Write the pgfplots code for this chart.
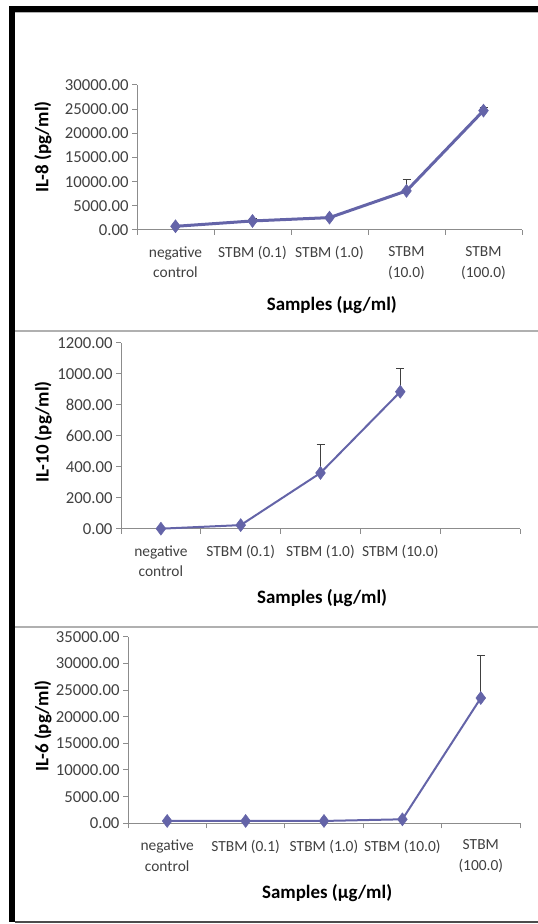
\documentclass[border=0pt]{standalone}
\usepackage{pgfplots}
\pgfplotsset{compat=1.18}
\usepackage{fontspec}
\setmainfont{Carlito}
\definecolor{ser}{RGB}{100,100,168}
\definecolor{axgray}{RGB}{140,140,140}
\definecolor{tickc}{RGB}{64,64,64}
\definecolor{sep}{RGB}{176,176,176}
\pgfplotsset{
  panel/.style={
    scale only axis,
    anchor=south west,
    axis x line=bottom, axis y line=left,
    axis line style={axgray, line width=1bp, -},
    xmin=-0.5, xmax=4.5, ymin=0,
    tick align=outside,
    major tick length=5bp,
    tick style={axgray, line width=1bp},
    xtick={-0.5,0.5,...,4.5},
    xticklabel={\relax},
    extra x ticks={0,1,2,3,4},
    extra x tick style={major tick length=0pt, tick style={draw=none}},
    xticklabel style={align=center, font=\fontsize{15.5}{20.7}\selectfont, text=tickc, yshift=-13bp},
    yticklabel style={font=\fontsize{16.8}{18}\selectfont, text=tickc},
    scaled y ticks=false,
    /pgf/number format/assume math mode=true,
    /pgf/number format/fixed, /pgf/number format/fixed zerofill,
    /pgf/number format/precision=2, /pgf/number format/1000 sep={},
    ylabel style={font=\bfseries\fontsize{19}{22}\selectfont, anchor=center},
    xlabel style={font=\bfseries\fontsize{19}{22}\selectfont, anchor=center},
    clip=false,
  },
  ser/.style={color=ser, mark=diamond*, mark size=6.5bp, mark options={fill=ser, draw=ser, solid, line width=0.5bp},
    error bars/y dir=plus, error bars/y explicit,
    error bars/error bar style={tickc, line width=1bp},
    error bars/error mark options={tickc, rotate=90, mark size=4bp, line width=1bp}},
}
\begin{document}
\begin{tikzpicture}[x=1bp,y=1bp]
% frame
\fill[black] (8.5,2) rectangle (15,918);
\fill[black] (8.5,912) rectangle (538,918);
\draw[sep, line width=1bp] (15,911.5) -- (538,911.5);
\draw[black!70, line width=2bp] (15,2.3) -- (538,2.3);
\draw[sep, line width=2bp] (15,593.3) -- (538,593.3);
\draw[sep, line width=2bp] (15,297.2) -- (538,297.2);

% Panel 1: IL-8
\begin{axis}[panel, at={(137bp,694bp)}, width=385bp, height=145bp,
  ymax=30000, ytick={0,5000,...,30000},
  extra x tick labels={negative\\control, STBM (0.1), STBM (1.0), STBM\\(10.0), STBM\\(100.0)},
  ylabel={IL-8 (pg/ml)}, ylabel style={at={(axis description cs:-0.244,0.574)}},
  xlabel={Samples (µg/ml)}, xlabel style={at={(axis description cs:0.506,-0.517)}}]
\addplot+[line width=3bp, ser] table[x=x, y=y, y error=e] {
x y e
0 760 0
1 1870 500
2 2560 300
3 8090 2300
4 24700 700
};
\end{axis}

% Panel 2: IL-10
\begin{axis}[panel, at={(121bp,395bp)}, width=399bp, height=186.3bp,
  ymax=1200, ytick={0,200,...,1200},
  extra x ticks={0,1,2,3},
  extra x tick labels={negative\\control, STBM (0.1), STBM (1.0), STBM (10.0)},
  ylabel={IL-10 (pg/ml)}, ylabel style={at={(axis description cs:-0.195,0.522)}},
  xlabel={Samples (µg/ml)}, xlabel style={at={(axis description cs:0.504,-0.372)}}]
\addplot+[line width=2bp, ser] table[x=x, y=y, y error=e] {
x y e
0 2 0
1 25 5
2 361 185
3 884 152
};
\end{axis}

% Panel 3: IL-6
\begin{axis}[panel, at={(128bp,100.7bp)}, width=392bp, height=186.6bp,
  ymax=35000, ytick={0,5000,...,35000},
  extra x tick labels={negative\\control, STBM (0.1), STBM (1.0), STBM (10.0), STBM\\(100.0)},
  ylabel={IL-6 (pg/ml)}, ylabel style={at={(axis description cs:-0.217,0.522)}},
  xlabel={Samples (µg/ml)}, xlabel style={at={(axis description cs:0.508,-0.375)}}]
\addplot+[line width=2bp, ser] table[x=x, y=y, y error=e] {
x y e
0 440 0
1 440 0
2 440 0
3 750 0
4 23500 7900
};
\end{axis}
\pgfresetboundingbox
\path[use as bounding box] (0,0) rectangle (538,924);
\end{tikzpicture}
\end{document}
